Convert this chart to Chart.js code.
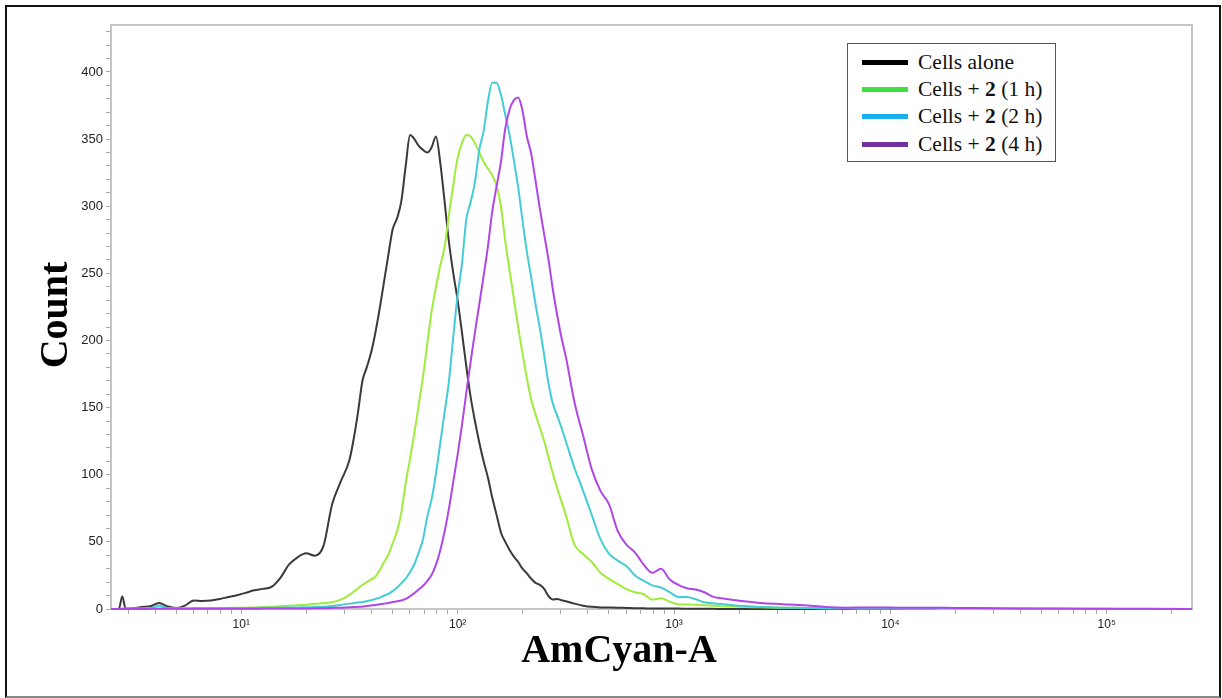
<!DOCTYPE html>
<html>
<head>
<meta charset="utf-8">
<title>AmCyan-A histogram</title>
<script src="https://cdn.jsdelivr.net/npm/chart.js@4.4.1/dist/chart.umd.min.js"></script>
<style>
  body { margin: 0; background: #fff; }
  #wrap { position: relative; width: 1222px; height: 698px; overflow: hidden; }
  #frame { position: absolute; left: 5px; top: 5px; width: 1216px; height: 693px; box-sizing: border-box;
           border: 2px solid #111; border-bottom-color: #888; }
  #chart { position: absolute; left: 0; top: 0; }
  #legend { position: absolute; left: 847px; top: 43px; width: 209px; height: 119px; box-sizing: border-box;
            border: 1.5px solid #555; background: #fff;
            font-family: "Liberation Serif", "Times New Roman", serif; font-size: 21.5px; color: #111; }
  .row { position: absolute; left: 14px; height: 28px; display: flex; align-items: center; white-space: pre; }
  .row i { display: block; width: 46px; height: 5px; margin-right: 10px; }
</style>
</head>
<body>
<div id="wrap">
  <div id="frame"></div>
  <canvas id="chart" width="1222" height="698"></canvas>
  <div id="legend">
    <div class="row" style="top:4px"><i style="background:#000"></i>Cells alone</div>
    <div class="row" style="top:31px"><i style="background:#40e040"></i>Cells + <b>2</b> (1 h)</div>
    <div class="row" style="top:58px"><i style="background:#18b0f0"></i>Cells + <b>2</b> (2 h)</div>
    <div class="row" style="top:86px"><i style="background:#7030a0"></i>Cells + <b>2</b> (4 h)</div>
  </div>
</div>
<script>
// canais AmCyan-A (escala log)
const channel = [
  2.5, 2.63, 2.723, 2.818, 2.917, 3.02, 3.162, 3.467, 3.802, 4.169, 4.571, 5.012, 5.495, 6.026, 6.607, 7.244,
  7.943, 8.71, 9.55, 10.47, 11.48, 12.59, 13.8, 15.14, 16.6, 18.2, 19.95, 21.88, 23.99, 26.3, 28.84, 31.62,
  33.11, 34.67, 36.31, 38.02, 39.81, 41.69, 43.65, 45.71, 47.86, 50.12,
  52.48, 54.95, 57.54, 60.26, 63.1, 66.07, 69.18, 72.44, 75.86, 79.43,
  83.18, 87.1, 91.2, 95.5, 100, 104.7, 109.6, 114.8, 120.2, 125.9,
  131.8, 138, 144.5, 151.4, 158.5, 166, 173.8, 182, 190.5, 199.5,
  208.9, 218.8, 229.1, 239.9, 251.2, 263, 275.4, 288.4, 302, 316.2,
  346.7, 380.2, 416.9, 457.1, 501.2, 549.5, 602.6, 660.7, 724.4, 794.3,
  871, 955, 1047, 1148, 1259, 1380, 1514, 1660, 1820, 1995,
  2512, 3162, 3981, 5012, 6310, 7943, 10000, 12590, 15850, 19950,
  25120, 39810, 63100, 100000, 158500, 247700
];

const cellsAlone = [
  0, 0, 0.3, 9.5, 0.5, 0.3, 0.5, 1.5, 2, 4.5, 1.8, 0.8, 2.5, 6.3, 6, 6.3,
  7.5, 9, 10.3, 12, 14, 15, 16.5, 23, 33, 38.5, 41.5, 39.7, 47, 78, 95, 111,
  127, 147, 170, 180, 191, 206, 224, 244, 264, 283,
  291, 304, 330, 353, 350, 345, 342, 340, 344, 352,
  332, 303, 273, 250, 230, 206, 181, 158, 140, 124,
  110, 98, 83, 70, 57, 50, 44, 39, 35, 30,
  26.5, 22.5, 19.5, 18, 15, 9.5, 7, 7.5, 6.5, 5.8,
  4, 2.5, 1.6, 1.2, 1.1, 1, 0.8, 0.6, 0.5, 0.4,
  0.4, 0.3, 0.3, 0.2, 0.2, 0.1, 0.1, 0, 0, 0,
  0, 0, 0, 0, 0, 0, 0, 0, 0, 0,
  0, 0, 0, 0, 0, 0
];

const cells1h = [
  0, 0, 0, 0, 0, 0, 0, 0.2, 0.2, 0.3, 0.3, 0.4, 0.4, 0.5, 0.5, 0.6,
  0.7, 0.8, 0.9, 1, 1.2, 1.3, 1.6, 2, 2.4, 2.8, 3.2, 3.9, 4.4, 5, 7, 10.5,
  13, 15.5, 18, 20, 22, 24, 29, 35, 40.5, 49,
  58, 72, 94, 112, 131, 152, 173, 198, 222, 240,
  256, 270, 294, 316, 336, 347, 353, 352, 347, 340,
  333, 328, 323, 315, 300, 274, 252, 231, 210, 190,
  172, 156, 145, 135, 125, 113, 101, 90, 80, 70,
  48, 41, 35, 27, 22.5, 18.5, 14.8, 12.5, 11, 7,
  8, 5.5, 3.5, 3.3, 3.1, 2.8, 2.4, 2.1, 1.8, 1.6,
  1.3, 1, 0.8, 0.6, 0.5, 0.4, 0.3, 0.2, 0.1, 0,
  0, 0, 0, 0, 0, 0
];

const cells2h = [
  0, 0, 0, 0.3, 0.3, 0.3, 0.3, 0.4, 0.6, 2.5, 0.5, 0.4, 0.4, 0.5, 0.5, 0.6,
  0.6, 0.7, 0.7, 0.8, 0.8, 0.9, 1, 1, 1.1, 1.2, 1.3, 1.4, 1.6, 2.2, 3, 4,
  4.3, 4.8, 5.2, 5.8, 6.5, 7.5, 8.5, 10, 11.2, 13.3,
  16, 19.3, 22.7, 27.5, 33.5, 42, 52, 69, 82, 101,
  124, 147, 170, 203, 234, 257, 290, 303, 318, 342,
  356, 378, 392, 392, 383, 368, 353, 334, 314, 289,
  266, 247, 227, 209, 189, 168, 153, 144, 135, 125,
  105, 88, 70, 52, 41, 36, 32, 25, 21, 17.6,
  16, 12.5, 9, 9, 7.3, 5, 4.2, 3.7, 3, 2.4,
  1.5, 1, 0.8, 0.6, 0.5, 0.5, 0.5, 0.5, 0.5, 0.5,
  0.4, 0.3, 0.2, 0.1, 0, 0
];

const cells4h = [
  0, 0, 0, 0, 0, 0, 0, 0, 0.1, 0.2, 0.1, 0.1, 0.1, 0.2, 0.2, 0.2,
  0.2, 0.2, 0.2, 0.2, 0.2, 0.3, 0.3, 0.3, 0.3, 0.3, 0.4, 0.5, 0.6, 0.8, 1, 1.3,
  1.5, 1.6, 1.8, 2.2, 2.6, 3, 3.5, 4, 4.5, 5.2,
  5.8, 6.3, 7.5, 9.5, 11.8, 14.5, 17.3, 21, 25.5, 33,
  44, 58, 75, 95, 115, 137, 161, 184, 206, 227,
  248, 270, 296, 315, 333, 358, 372, 379, 381, 371,
  352, 339, 319, 298, 279, 260, 238, 219, 202, 188,
  154, 129, 104, 88, 78, 58, 48, 42, 33, 27,
  30, 22, 18, 15.5, 14.5, 12.5, 9.2, 8, 7, 6.2,
  4.4, 3.6, 2.8, 1.5, 1, 1.2, 1.1, 0.9, 1, 0.8,
  0.7, 0.4, 0.3, 0.2, 0.1, 0
];

const decades = [10, 100, 1000, 10000, 100000];
const decadeLabels = ['10¹', '10²', '10³', '10⁴', '10⁵'];
const countTicks = [0, 50, 100, 150, 200, 250, 300, 350, 400];

function serie(counts, color, order) {
  return {
    data: channel.map((x, i) => ({ x: x, y: counts[i] })),
    borderColor: color,
    borderWidth: 2,
    pointRadius: 0,
    fill: false,
    cubicInterpolationMode: 'monotone',
    clip: false,
    order: order
  };
}

// moldura cinza da area do grafico + titulos dos eixos
const moldura = {
  id: 'moldura',
  beforeDatasetsDraw(chart) {
    const a = chart.chartArea, ctx = chart.ctx;
    ctx.save();
    ctx.strokeStyle = '#c4c4c4';
    ctx.lineWidth = 2;
    ctx.strokeRect(a.left, a.top, a.right - a.left, a.bottom - a.top);
    ctx.restore();
  },
  afterDraw(chart) {
    const ctx = chart.ctx;
    ctx.save();
    ctx.fillStyle = '#000';
    ctx.font = 'bold 40px "Liberation Serif"';
    ctx.textAlign = 'center';
    ctx.textBaseline = 'middle';
    ctx.fillText('AmCyan-A', 619, 652);
    ctx.translate(57, 315);
    ctx.rotate(-Math.PI / 2);
    ctx.fillText('Count', 0, 0);
    ctx.restore();
  }
};

new Chart(document.getElementById('chart').getContext('2d'), {
  type: 'line',
  data: {
    datasets: [
      serie(cellsAlone, '#3a3a3a', 4),
      serie(cells1h, '#a0ec3c', 3),
      serie(cells2h, '#44ccd6', 2),
      serie(cells4h, '#b046e6', 1)
    ]
  },
  options: {
    responsive: false,
    animation: false,
    layout: { padding: { left: 0, top: 25, right: 30, bottom: 0 } },
    plugins: { legend: { display: false }, tooltip: { enabled: false } },
    scales: {
      x: {
        type: 'logarithmic',
        min: 2.5,
        max: 247700,
        afterBuildTicks(scale) {
          const t = [];
          for (let e = 0; e <= 5; e++) {
            for (let m = 1; m <= 9; m++) {
              const v = m * Math.pow(10, e);
              if (v > scale.min && v < scale.max) t.push({ value: v });
            }
          }
          scale.ticks = t;
        },
        afterFit(scale) { scale.height = 89; },
        ticks: {
          autoSkip: false,
          maxRotation: 0,
          padding: 3,
          font: { family: 'Liberation Sans', size: 12 },
          color: '#222',
          callback(v) {
            const i = decades.indexOf(v);
            return i >= 0 ? decadeLabels[i] : '';
          }
        },
        grid: { drawOnChartArea: false, tickLength: 5, tickColor: '#aaa' },
        border: { color: '#c4c4c4', width: 2 }
      },
      y: {
        min: 0,
        max: 435,
        afterBuildTicks(scale) {
          const t = [];
          for (let v = 0; v <= 430; v += 10) t.push({ value: v });
          scale.ticks = t;
        },
        afterFit(scale) { scale.width = 111; },
        ticks: {
          autoSkip: false,
          padding: 3,
          font: { family: 'Liberation Sans', size: 13 },
          color: '#222',
          callback(v) { return countTicks.includes(v) ? String(v) : ''; }
        },
        grid: { drawOnChartArea: false, tickLength: 5, tickColor: '#aaa' },
        border: { color: '#c4c4c4', width: 2 }
      }
    }
  },
  plugins: [moldura]
});
</script>
</body>
</html>
